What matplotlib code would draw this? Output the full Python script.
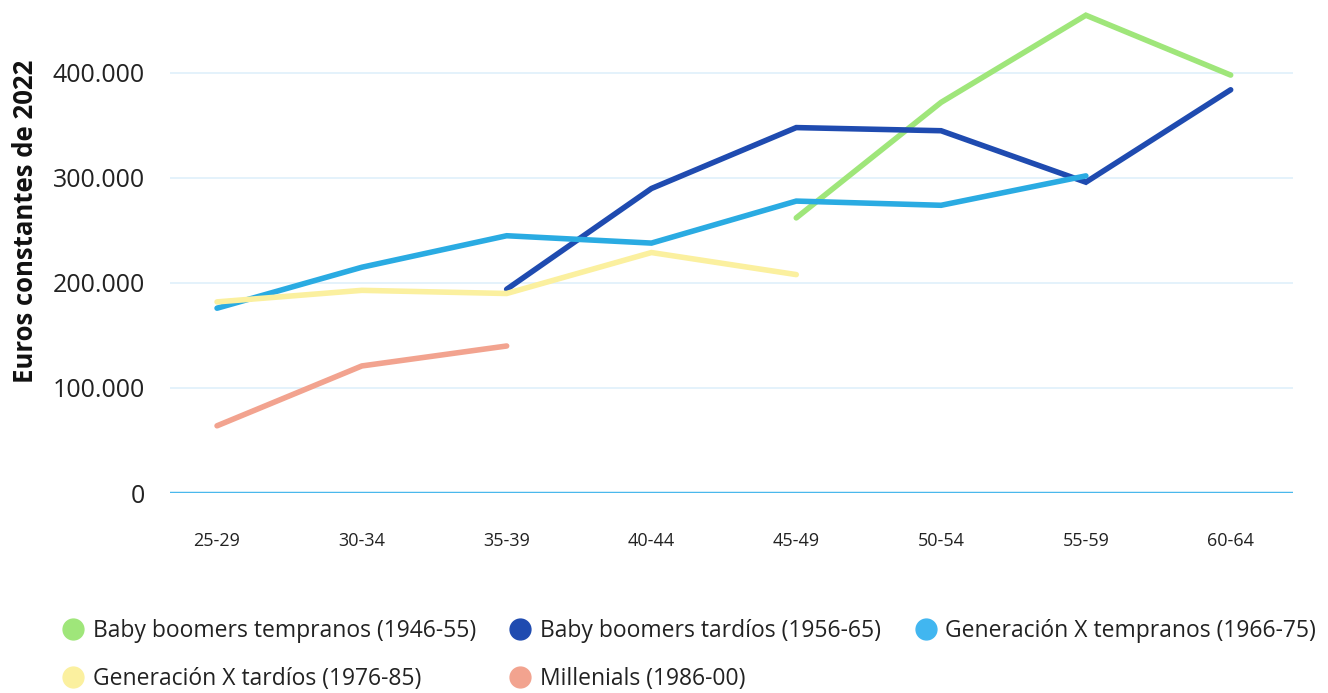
import matplotlib.pyplot as plt
from matplotlib.lines import Line2D
from matplotlib.ticker import FuncFormatter
import numpy as np

plt.rcParams['font.family'] = ['Open Sans', 'DejaVu Sans']

# Data (euros constantes de 2022)
edades = ["25-29", "30-34", "35-39", "40-44", "45-49", "50-54", "55-59", "60-64"]
nan = np.nan
bb_tempranos = [nan, nan, nan, nan, 262000, 372000, 455000, 398000]
bb_tardios = [nan, nan, 194000, 290000, 348000, 345000, 296000, 384000]
genx_tempranos = [176000, 215000, 245000, 238000, 278000, 274000, 302000, nan]
genx_tardios = [182000, 193000, 190000, 229000, 208000, nan, nan, nan]
millenials = [64000, 121000, 140000, nan, nan, nan, nan, nan]

series = [
    ("Baby boomers tempranos (1946-55)", bb_tempranos, "#9fe67a", "#9fe67a"),
    ("Baby boomers tardíos (1956-65)", bb_tardios, "#1f4bb0", "#1f4bb0"),
    ("Generación X tempranos (1966-75)", genx_tempranos, "#2aabe2", "#41b6f0"),
    ("Generación X tardíos (1976-85)", genx_tardios, "#fbf09f", "#fbf09f"),
    ("Millenials (1986-00)", millenials, "#f2a38f", "#f2a38f"),
]

fig = plt.figure(figsize=(13.28, 6.93), dpi=100)
ax = fig.add_axes([0.128, 0.2886, 0.8456, 0.697])

x = np.arange(len(edades))
for name, vals, col, _ in series:
    ax.plot(x, vals, color=col, lw=4, solid_capstyle="round", solid_joinstyle="miter", zorder=3)

ax.set_xlim(-0.325, 7.43)
ax.set_ylim(0, 460000)
ax.set_yticks([0, 100000, 200000, 300000, 400000])
ax.yaxis.set_major_formatter(FuncFormatter(lambda v, p: f"{int(v):,}".replace(",", ".")))
ax.set_xticks(x)
ax.set_xticklabels(edades)
ax.tick_params(axis="both", length=0, colors="#222222")
ax.tick_params(axis="y", labelsize=18, pad=18)
ax.tick_params(axis="x", labelsize=13, pad=28)
for s in ax.spines.values():
    s.set_visible(False)
ax.grid(axis="y", color="#dff0fb", lw=1.2, zorder=0)
ax.axhline(0, color="#4ab8ec", lw=2.5, zorder=2)

fig.text(0.019, 0.68, "Euros constantes de 2022", rotation=90, ha="center", va="center",
         fontsize=18.5, fontweight="bold", color="#111111")

handles = [Line2D([], [], ls="none", marker="o", ms=15, color=mc, label=name)
           for name, _, _, mc in series]
# row-major order for a 3-column legend
order = [0, 3, 1, 4, 2]
fig.legend(handles=[handles[i] for i in order], ncol=3, loc="lower left",
           bbox_to_anchor=(0.03, -0.027), frameon=False, fontsize=16.5,
           handletextpad=0.3, columnspacing=1.4, labelspacing=1.05,
           handlelength=1.1, labelcolor="#222222")

fig.savefig("out.png", dpi=100)
